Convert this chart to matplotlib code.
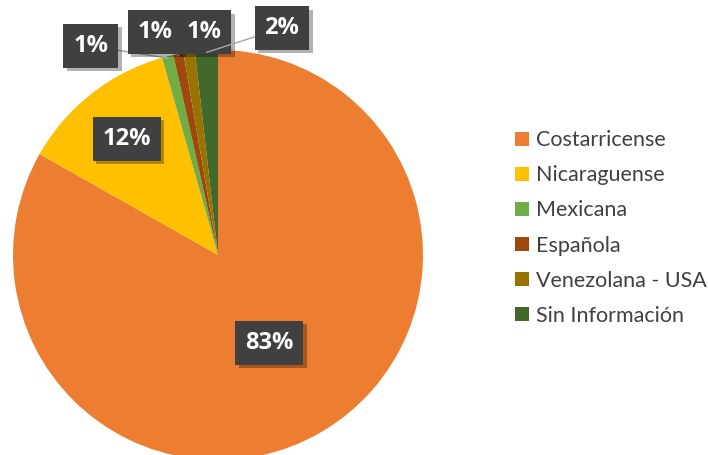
import numpy as np
import matplotlib.pyplot as plt
import matplotlib.patheffects as pe

# data
categories = ['Costarricense', 'Nicaraguense', 'Mexicana', 'Española',
              'Venezolana - USA', 'Sin Información']
values = [83.2, 12.4, 0.9, 0.8, 0.9, 1.8]
colors = ['#ED7D31', '#FFC000', '#70AD47', '#9E480E', '#997300', '#43682B']

# label placement (data coords of the pie, radius 1); None = put inside the slice
label_pos = [None, None, (-0.62, 1.02), (-0.307, 1.088), (-0.068, 1.088), (0.312, 1.107)]
inner_r = [0.496, 0.72]

plt.rcParams['font.family'] = ['Lato', 'DejaVu Sans']

fig = plt.figure(figsize=(7.08, 4.55), dpi=100)
W, H = 708, 455
cx, cy, R = 218, 255, 205
ax = fig.add_axes([(cx - R) / W, (H - cy - R) / H, 2 * R / W, 2 * R / H])

wedges, _ = ax.pie(values, colors=colors, startangle=90, counterclock=False,
                   radius=1, frame=False)
ax.set_xlim(-1, 1)
ax.set_ylim(-1, 1)
ax.set_aspect('equal')
ax.axis('off')

total = sum(values)
lab_font = dict(color='white', fontsize=17, fontweight='bold', family=['Open Sans', 'DejaVu Sans'])
for i, w in enumerate(wedges):
    mid = np.deg2rad((w.theta1 + w.theta2) / 2)
    txt = f"{values[i] / total * 100:.0f}%"
    box = dict(boxstyle='square,pad=0.42', facecolor='#404040', edgecolor='none')
    if label_pos[i] is None:
        r = inner_r[i]
        t = ax.text(r * np.cos(mid), r * np.sin(mid), txt, ha='center', va='center',
                    bbox=box, **lab_font)
    else:
        ex, ey = 0.99 * np.cos(mid), 0.99 * np.sin(mid)
        t = ax.annotate(txt, xy=(ex, ey), xytext=label_pos[i], ha='center', va='center',
                        bbox=box, arrowprops=dict(arrowstyle='-', color='#a6a6a6', lw=1,
                                                  shrinkA=0, shrinkB=0), **lab_font)
    t.get_bbox_patch().set_path_effects(
        [pe.SimplePatchShadow(offset=(2.5, -2.5), shadow_rgbFace='black', alpha=0.3), pe.Normal()])

leg = fig.legend(wedges, categories, loc='center left', bbox_to_anchor=(496 / W, 1 - 228 / H),
                 frameon=False, fontsize=15.5, handlelength=0.65, handleheight=0.65,
                 handletextpad=0.3, labelspacing=0.7, labelcolor='#404040')

fig.savefig('out.png', dpi=100)
